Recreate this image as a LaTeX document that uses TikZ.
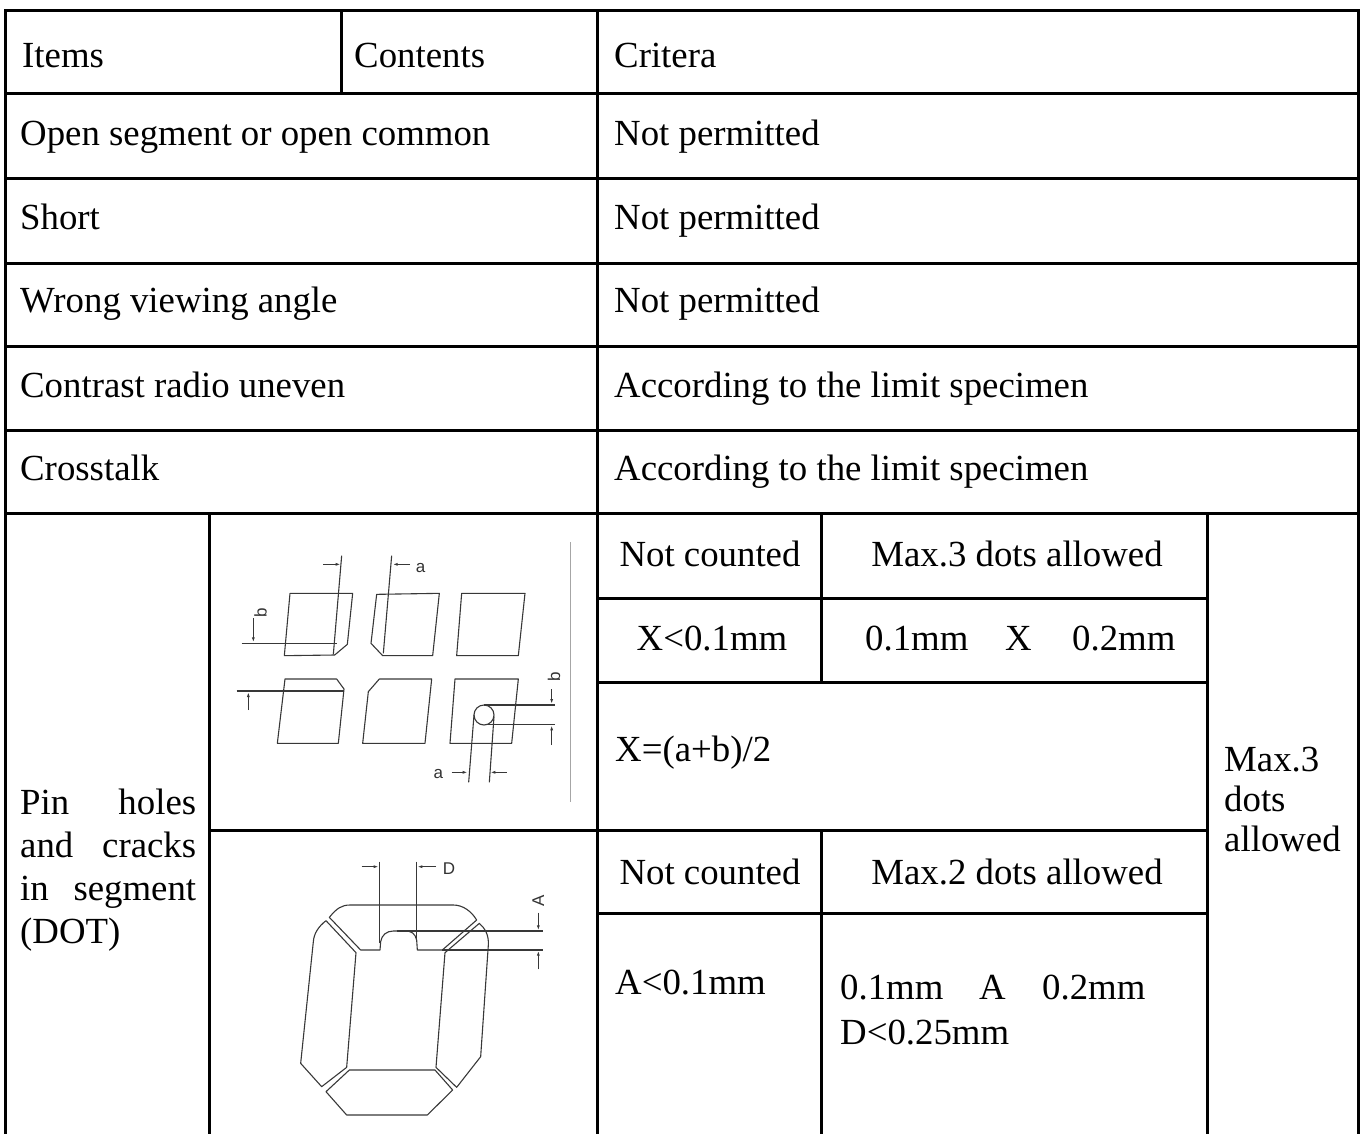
\documentclass[tikz,border=0pt]{standalone}
\usepackage{fontspec}
\setmainfont{Liberation Serif}
\newfontfamily\cadfont{Liberation Sans}
\usetikzlibrary{arrows.meta}
\begin{document}
\begin{tikzpicture}[x=1pt,y=-1pt,
  gridline/.style={line width=3pt, line cap=rect},
  txt/.style={inner sep=0pt, font=\fontsize{36.8}{44}\selectfont},
  cad/.style={line width=1.1pt, draw=black!78, line join=round},
  cadarrow/.style={cad, -{Latex[length=5pt,width=3pt]}},
  cadlabel/.style={inner sep=0pt, font=\cadfont\fontsize{17}{19}\selectfont, text=black!80},
  guide/.style={line width=1pt, draw=black!35}]
\useasboundingbox (0,0) rectangle (1367,1133);
% ---------- table grid ----------
\draw[gridline] (5,10) -- (1358,10);
\draw[gridline] (5,10) -- (5,1133);
\draw[gridline] (1358,10) -- (1358,1133);
\foreach \yy in {93,178,263,346,430,513}
  \draw[gridline] (5,\yy) -- (1358,\yy);
\draw[gridline] (341,10) -- (341,93);
\draw[gridline] (597,10) -- (597,1133);
\draw[gridline] (209,513) -- (209,1133);
\draw[gridline] (209,830) -- (1207,830);
\draw[gridline] (1207,513) -- (1207,1133);
\draw[gridline] (821,513) -- (821,682);
\draw[gridline] (821,830) -- (821,1133);
\draw[gridline] (597,598) -- (1207,598);
\draw[gridline] (597,682) -- (1207,682);
\draw[gridline] (597,913) -- (1207,913);
% ---------- header & rows ----------
\node[txt, anchor=base west] (hitems) at (22,67) {Items};
\node[txt, anchor=base west] (hcont) at (354,67) {Contents};
\node[txt, anchor=base west] (hcrit) at (614,67) {Critera};
\node[txt, anchor=base west] (r1a) at (20,145) {Open segment or open common};
\node[txt, anchor=base west] (r1b) at (614,145) {Not permitted};
\node[txt, anchor=base west] (r2a) at (20,229) {Short};
\node[txt, anchor=base west] (r2b) at (614,229) {Not permitted};
\node[txt, anchor=base west] (r3a) at (20,312) {Wrong viewing angle};
\node[txt, anchor=base west] (r3b) at (614,312) {Not permitted};
\node[txt, anchor=base west] (r4a) at (20,397) {Contrast radio uneven};
\node[txt, anchor=base west] (r4b) at (614,397) {According to the limit specimen};
\node[txt, anchor=base west] (r5a) at (20,480) {Crosstalk};
\node[txt, anchor=base west] (r5b) at (614,480) {According to the limit specimen};
% ---------- pin holes block ----------
\node[txt, anchor=base west] (pin1) at (20,814) {\hbox to 176pt{Pin\hfill holes}};
\node[txt, anchor=base west] (pin2) at (20,857) {\hbox to 176pt{and\hfill cracks}};
\node[txt, anchor=base west] (pin3) at (20,900) {\hbox to 176pt{in\hfill segment}};
\node[txt, anchor=base west] (pin4) at (20,943) {(DOT)};
\node[txt, anchor=base] (nc1) at (710,566) {Not counted};
\node[txt, anchor=base] (mx3) at (1017,566) {Max.3 dots allowed};
\node[txt, anchor=base] (xlt) at (712,650) {X<0.1mm};
\node[txt, anchor=base west] (xr1) at (865,650) {0.1mm};
\node[txt, anchor=base west] (xr2) at (1005,650) {X};
\node[txt, anchor=base west] (xr3) at (1072,650) {0.2mm};
\node[txt, anchor=base west] (xform) at (615,761) {X=(a+b)/2};
\node[txt, anchor=base] (nc2) at (710,884) {Not counted};
\node[txt, anchor=base] (mx2) at (1017,884) {Max.2 dots allowed};
\node[txt, anchor=base west] (alt) at (615,994) {A<0.1mm};
\node[txt, anchor=base west] (ar1) at (840,999) {0.1mm};
\node[txt, anchor=base west] (ar2) at (979,999) {A};
\node[txt, anchor=base west] (ar3) at (1042,999) {0.2mm};
\node[txt, anchor=base west] (dlt) at (840,1044) {D<0.25mm};
\node[txt, anchor=base west] (rc1) at (1224,771) {Max.3};
\node[txt, anchor=base west] (rc2) at (1224,811) {dots};
\node[txt, anchor=base west] (rc3) at (1224,851) {allowed};
% ---------- drawing 1 ----------
\begin{scope}[shift={(190,535)}, scale=1/3]
  \draw[cad] (300,175) -- (488,175) -- (472,328) -- (434,360) -- (283,362) -- cycle;
  \draw[cad] (455,62) -- (430,358);
  \draw[cadarrow] (400,88) -- (452,88);
  \draw[cad] (155,325) -- (440,325);
  \draw[cadarrow] (190,250) -- (190,322);
  \node[cadlabel, rotate=90] (lb1) at (212,232) {b};
  \draw[cad] (560,178) -- (748,175) -- (728,362) -- (578,362) -- (543,325) -- cycle;
  \draw[cad] (605,62) -- (580,355);
  \draw[cadarrow] (660,88) -- (608,88);
  \node[cadlabel] (la1) at (692,98) {a};
  \draw[cad] (815,175) -- (1005,175) -- (985,362) -- (800,362) -- cycle;
  \draw[cad] (285,432) -- (440,432) -- (462,462) -- (445,625) -- (262,625) -- cycle;
  \draw[cad] (140,468) -- (462,468);
  \draw[cadarrow] (175,525) -- (175,471);
  \draw[cad] (568,432) -- (725,432) -- (705,625) -- (518,625) -- (535,470) -- cycle;
  \draw[cad] (795,432) -- (985,432) -- (965,625) -- (780,625) -- cycle;
  \draw[cad] (882,540) circle[radius=30];
  \draw[cad] (882,510) -- (1095,510);
  \draw[cad] (895,568) -- (1095,568);
  \draw[cadarrow] (1085,462) -- (1085,507);
  \draw[cadarrow] (1085,630) -- (1085,571);
  \node[cadlabel, rotate=90] (lb2) at (1092,425) {b};
  \draw[cad] (852,540) -- (836,742);
  \draw[cad] (912,545) -- (898,742);
  \draw[cadarrow] (785,712) -- (833,712);
  \draw[cadarrow] (950,712) -- (901,712);
  \node[cadlabel] (la2) at (745,718) {a};
  \draw[guide] (1140,22) -- (1140,800);
\end{scope}
% ---------- drawing 2 ----------
\begin{scope}[shift={(190,830)}, scale=1/3]
  \draw[cad] (418,262) .. controls (440,235) and (455,225) .. (480,225) -- (790,225)
     .. controls (820,225) and (845,245) .. (860,270) -- (757,360) -- (682,360) -- (680,330)
     .. controls (675,310) and (665,303) .. (645,303) -- (610,303)
     .. controls (590,303) and (575,315) .. (572,335) -- (570,360) -- (512,360) -- cycle;
  \draw[cad] (408,272) .. controls (385,290) and (372,310) .. (370,335) -- (332,700)
     -- (395,770) -- (470,712) -- (498,368) -- cycle;
  \draw[cad] (868,280) .. controls (885,295) and (897,315) .. (895,345) -- (872,680)
     -- (800,772) -- (738,712) -- (765,368) -- cycle;
  \draw[cad] (408,785) -- (478,720) -- (735,720) -- (788,780) -- (712,855) -- (470,855) -- cycle;
  \draw[cad] (568,95) -- (568,340);
  \draw[cad] (680,95) -- (680,330);
  \draw[cadarrow] (515,110) -- (566,110);
  \draw[cadarrow] (738,110) -- (682,110);
  \node[cadlabel] (ld) at (777,115) {D};
  \draw[cad] (620,303) -- (1060,303);
  \draw[cad] (757,360) -- (1060,360);
  \draw[cadarrow] (1045,248) -- (1045,301);
  \draw[cadarrow] (1045,418) -- (1045,362);
  \node[cadlabel, rotate=90] (lA) at (1045,212) {A};
\end{scope}
\end{tikzpicture}
\end{document}
